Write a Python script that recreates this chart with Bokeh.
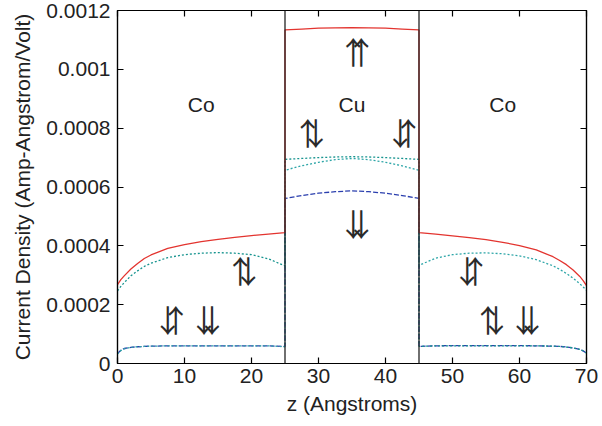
from bokeh.plotting import figure
from bokeh.models import (LinearAxis, FixedTicker, CustomJSTickFormatter, Span,
                          ColumnDataSource, Range1d)
from bokeh.core.properties import value
from bokeh.embed import file_html
from bokeh.resources import INLINE

# ---------------- data ----------------
z_co_left = [0, 0.5, 1, 2, 3, 4, 5, 7.5, 10, 12.5, 15, 17.5, 20, 22.5, 25]
z_cu = [25, 27.5, 30, 32.5, 35, 37.5, 40, 42.5, 45]
z_co_right = [45, 47.5, 50, 52.5, 55, 57.5, 60, 62.5, 65, 66, 67, 68, 69, 69.5, 70]

# up-up (red solid)
uu_left = [0.000268, 0.000285, 0.000298, 0.000321, 0.000340, 0.000357, 0.000369, 0.000391,
           0.000404, 0.000414, 0.000422, 0.000429, 0.000435, 0.000440, 0.000445]
uu_cu = [0.001134, 0.001137, 0.001140, 0.001141, 0.001142, 0.001141, 0.001140, 0.001137, 0.001134]
uu_right = [0.000445, 0.000440, 0.000434, 0.000428, 0.000421, 0.000412, 0.000401, 0.000386,
            0.000363, 0.000350, 0.000336, 0.000318, 0.000296, 0.000282, 0.000265]

# up-down (teal dotted)
ud_left = [0.000247, 0.000262, 0.000275, 0.000298, 0.000315, 0.000330, 0.000341, 0.000360,
           0.000370, 0.000375, 0.000377, 0.000375, 0.000370, 0.000356, 0.000332]
ud_cu = [0.000694, 0.000697, 0.000700, 0.000702, 0.000703, 0.000702, 0.000700, 0.000697, 0.000694]
ud_right = [0.000058, 0.000060, 0.000060, 0.000060, 0.000060, 0.000060, 0.000060, 0.000060,
            0.000059, 0.000058, 0.000056, 0.000053, 0.000048, 0.000043, 0.000035]

# down-up (teal dotted)
du_left = [0.000032, 0.000044, 0.000050, 0.000055, 0.000057, 0.000058, 0.000059, 0.000060,
           0.000060, 0.000060, 0.000060, 0.000060, 0.000060, 0.000060, 0.000057]
du_cu = [0.000657, 0.000672, 0.000684, 0.000693, 0.000697, 0.000693, 0.000684, 0.000672, 0.000657]
du_right = [0.000334, 0.000358, 0.000370, 0.000375, 0.000376, 0.000373, 0.000366, 0.000353,
            0.000332, 0.000320, 0.000306, 0.000290, 0.000271, 0.000260, 0.000249]

# down-down (blue dashed)
dd_left = [0.000034, 0.000045, 0.000051, 0.000055, 0.000057, 0.000058, 0.000059, 0.000060,
           0.000060, 0.000060, 0.000060, 0.000060, 0.000060, 0.000060, 0.000058]
dd_cu = [0.000561, 0.000571, 0.000579, 0.000584, 0.000587, 0.000584, 0.000579, 0.000571, 0.000561]
dd_right = [0.000058, 0.000060, 0.000061, 0.000061, 0.000061, 0.000061, 0.000061, 0.000060,
            0.000059, 0.000058, 0.000056, 0.000053, 0.000048, 0.000043, 0.000035]

layer_boundaries = [25, 45]
region_names = ["Co", "Cu", "Co"]
region_centers = [12.5, 35, 57.5]
region_label_y = 0.00088

# spin-arrow labels (pair of arrows) and their positions
arrow_pairs = ["↑↑", "↑↓", "↓↑", "↓↓", "↑↓", "↓↑", "↓↓", "↓↑", "↑↓", "↓↓"]
arrow_x = [35.8, 29.0, 42.8, 35.8, 18.9, 8.1, 13.5, 52.8, 55.9, 61.2]
arrow_y = [0.00105, 0.000775, 0.000775, 0.000465, 0.000305, 0.000139, 0.000139,
           0.000305, 0.000139, 0.000139]

x_ticks = [0, 10, 20, 30, 40, 50, 60, 70]
y_ticks = [0, 0.0002, 0.0004, 0.0006, 0.0008, 0.001, 0.0012]

# ---------------- figure ----------------
FONT = "Liberation Sans"
ARROW_FONT = "Noto Sans CJK JP"
p = figure(width=602, height=426, output_backend="svg", toolbar_location=None,
           x_range=Range1d(0, 70), y_range=Range1d(0, 0.0012),
           min_border_left=117, min_border_right=16, min_border_top=10, min_border_bottom=63)
p.grid.visible = False
p.outline_line_color = "black"
p.outline_line_width = 1.2
p.background_fill_color = "white"
p.border_fill_color = "white"

fmt = CustomJSTickFormatter(code="return tick.toString();")
blank = CustomJSTickFormatter(code="return '';")

def style_axis(ax, labels=True):
    ax.axis_line_color = "black"
    ax.axis_line_width = 1.2
    ax.major_tick_in = 6
    ax.major_tick_out = 0
    ax.minor_tick_in = 0
    ax.minor_tick_out = 0
    ax.major_tick_line_color = "black"
    ax.major_tick_line_width = 1.2
    if labels:
        ax.major_label_text_font = FONT
        ax.major_label_text_font_size = "21px"
        ax.major_label_text_color = "#222222"
        ax.axis_label_text_font = FONT
        ax.axis_label_text_font_size = "21px"
        ax.axis_label_text_font_style = "normal"
        ax.axis_label_text_color = "#222222"
    else:
        ax.formatter = blank
        ax.major_label_standoff = 0

xa = p.xaxis[0]
xa.ticker = FixedTicker(ticks=x_ticks)
xa.axis_label = "z (Angstroms)"
style_axis(xa)
xa.major_label_standoff = 5
xa.axis_label_standoff = 6

ya = p.yaxis[0]
ya.ticker = FixedTicker(ticks=y_ticks)
ya.formatter = fmt
ya.axis_label = "Current Density (Amp-Angstrom/Volt)"
style_axis(ya)
ya.major_label_standoff = 7
ya.axis_label_standoff = 9

top = LinearAxis(ticker=FixedTicker(ticks=x_ticks))
style_axis(top, labels=False)
p.add_layout(top, "above")
right = LinearAxis(ticker=FixedTicker(ticks=y_ticks))
style_axis(right, labels=False)
p.add_layout(right, "right")

# curves
z_all = z_co_left + z_cu + z_co_right
series = [
    (dd_left + dd_cu + dd_right, "#2b3fae", "5 2"),
    (du_left + du_cu + du_right, "#2ea6a8", "2 2"),
    (ud_left + ud_cu + ud_right, "#17948f", "2 2"),
    (uu_left + uu_cu + uu_right, "#e3342f", "solid"),
]
for vals, col, dash in series:
    p.line(z_all, vals, line_color=col, line_width=1.3, line_dash=dash)

for b in layer_boundaries:
    p.add_layout(Span(location=b, dimension="height", line_color="#222222", line_width=1.3))

# region labels
p.text(x=region_centers, y=[region_label_y] * len(region_centers), text=region_names,
       text_font=value(FONT), text_font_size="21px", text_align="center",
       text_baseline="middle", text_color="#222222")

# spin arrows: each pair drawn as two overlapping arrow glyphs
left_chars = [s[0] for s in arrow_pairs]
right_chars = [s[1] for s in arrow_pairs]
for chars, off in ((left_chars, -4), (right_chars, 4)):
    src = ColumnDataSource(dict(x=arrow_x, y=arrow_y, t=chars))
    p.text(x="x", y="y", text="t", source=src, x_offset=off, y_offset=-4,
           text_font=value(ARROW_FONT), text_font_size="31px", text_align="center",
           text_baseline="middle", text_color="#2a2a2a")

open("out.html", "w").write(file_html(p, INLINE))
